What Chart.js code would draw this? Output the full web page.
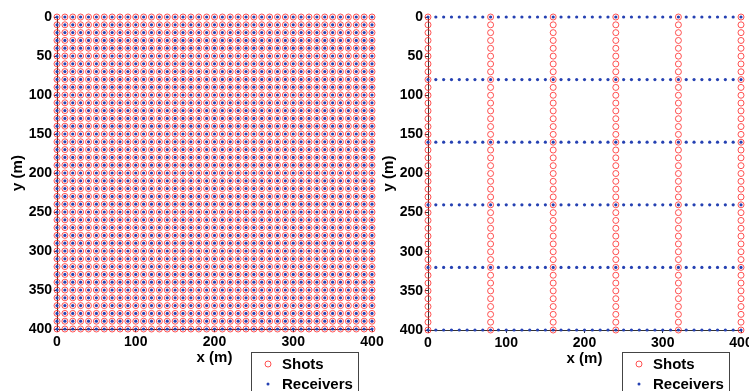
<!DOCTYPE html>
<html>
<head>
<meta charset="utf-8">
<script src="https://cdn.jsdelivr.net/npm/chart.js@4.4.1/dist/chart.umd.min.js"></script>
<style>
  html, body { margin: 0; padding: 0; background: #fff; overflow: hidden; width: 749px; height: 391px; }
  .wrap { position: absolute; top: 0; width: 400px; height: 410px; }
  #leftWrap { left: 0; }
  #rightWrap { left: 371px; }
</style>
</head>
<body>
<div class="wrap" id="leftWrap"><canvas id="dense"></canvas></div>
<div class="wrap" id="rightWrap"><canvas id="sparse"></canvas></div>
<script>
// station coordinates (m)
const denseCoords = [0, 10, 20, 30, 40, 50, 60, 70, 80, 90, 100, 110, 120, 130, 140, 150, 160, 170, 180, 190,
                     200, 210, 220, 230, 240, 250, 260, 270, 280, 290, 300, 310, 320, 330, 340, 350, 360, 370, 380, 390, 400];
const lineCoords = [0, 80, 160, 240, 320, 400];
const xTicks = [0, 100, 200, 300, 400];
const yTicks = [0, 50, 100, 150, 200, 250, 300, 350, 400];
const seriesNames = ['Shots', 'Receivers'];

// grid of points from two coordinate lists
function grid(xs, ys) {
    let pts = [];
    xs.forEach(x => ys.forEach(y => pts.push({ x: x, y: y })));
    return pts;
}

const SHOT_COLOR = 'rgba(255, 40, 40, 0.8)';
const REC_COLOR = '#2541b2';
const AXIS_COLOR = '#333333';
const FONT = '"Liberation Sans", Arial, sans-serif';

// legend box drawn in the bottom area
const boxLegend = {
    id: 'boxLegend',
    afterDraw(chart) {
        const ctx = chart.ctx;
        const bx = 251, by = 352, bw = 107, bh = 60;
        ctx.save();
        ctx.fillStyle = '#fff';
        ctx.fillRect(bx, by, bw, bh);
        ctx.strokeStyle = '#444';
        ctx.lineWidth = 1;
        ctx.strokeRect(bx + 0.5, by + 0.5, bw, bh);
        ctx.font = 'bold 15px ' + FONT;
        ctx.textBaseline = 'middle';
        ctx.fillStyle = '#000';
        chart.data.datasets.forEach((ds, i) => {
            let y = 364 + i * 20;
            ctx.beginPath();
            if (i === 0) {
                ctx.strokeStyle = ds.borderColor;
                ctx.arc(268, y, 3, 0, Math.PI * 2);
                ctx.stroke();
            } else {
                ctx.fillStyle = ds.backgroundColor;
                ctx.arc(268, y, 1.5, 0, Math.PI * 2);
                ctx.fill();
            }
            ctx.fillStyle = '#000';
            ctx.fillText(ds.label, 282, y + 1);
        });
        ctx.restore();
    }
};

function makeChart(id, shots, receivers, pad) {
    const ctx = document.getElementById(id).getContext('2d');
    return new Chart(ctx, {
        type: 'scatter',
        data: {
            datasets: [{
                label: seriesNames[0],
                data: shots,
                pointStyle: 'circle',
                pointRadius: 3,
                borderWidth: 1,
                borderColor: SHOT_COLOR,
                backgroundColor: 'rgba(0,0,0,0)',
                clip: false,
                order: 2
            }, {
                label: seriesNames[1],
                data: receivers,
                pointStyle: 'circle',
                pointRadius: 1.6,
                borderWidth: 0,
                borderColor: REC_COLOR,
                backgroundColor: REC_COLOR,
                clip: false,
                order: 1
            }]
        },
        options: {
            responsive: true,
            maintainAspectRatio: false,
            animation: false,
            layout: { padding: pad },
            plugins: {
                legend: { display: false },
                tooltip: { enabled: false }
            },
            scales: {
                x: {
                    type: 'linear',
                    min: 0, max: 400,
                    afterBuildTicks: s => { s.ticks = xTicks.map(v => ({ value: v })); },
                    afterFit: s => { s.height = 40; },
                    grid: { drawOnChartArea: false, tickLength: 3, color: AXIS_COLOR },
                    border: { color: AXIS_COLOR, width: 1 },
                    ticks: { color: '#000', padding: 2, font: { family: FONT, size: 14, weight: 'bold' } },
                    title: { display: true, text: 'x (m)', color: '#000', padding: { top: 0, bottom: 2 },
                             font: { family: FONT, size: 15, weight: 'bold' } }
                },
                y: {
                    type: 'linear',
                    reverse: true,
                    min: 0, max: 400,
                    afterBuildTicks: s => { s.ticks = yTicks.map(v => ({ value: v })); },
                    afterFit: s => { s.width = 57; },
                    grid: { drawOnChartArea: false, tickLength: 3, color: AXIS_COLOR },
                    border: { color: AXIS_COLOR, width: 1 },
                    ticks: { color: '#000', padding: 2, font: { family: FONT, size: 14, weight: 'bold' } },
                    title: { display: true, text: 'y (m)', color: '#000', padding: { top: 9, bottom: 0 },
                             font: { family: FONT, size: 15, weight: 'bold' } }
                }
            }
        },
        plugins: [boxLegend]
    });
}

// left: full carpet of shots and receivers
makeChart('dense', grid(denseCoords, denseCoords), grid(denseCoords, denseCoords),
    { top: 17, right: 28, bottom: 41, left: 0 });

// right: shot lines along y, receiver lines along x
makeChart('sparse', grid(lineCoords, denseCoords), grid(denseCoords, lineCoords),
    { top: 17, right: 30, bottom: 40, left: 0 });
</script>
</body>
</html>
